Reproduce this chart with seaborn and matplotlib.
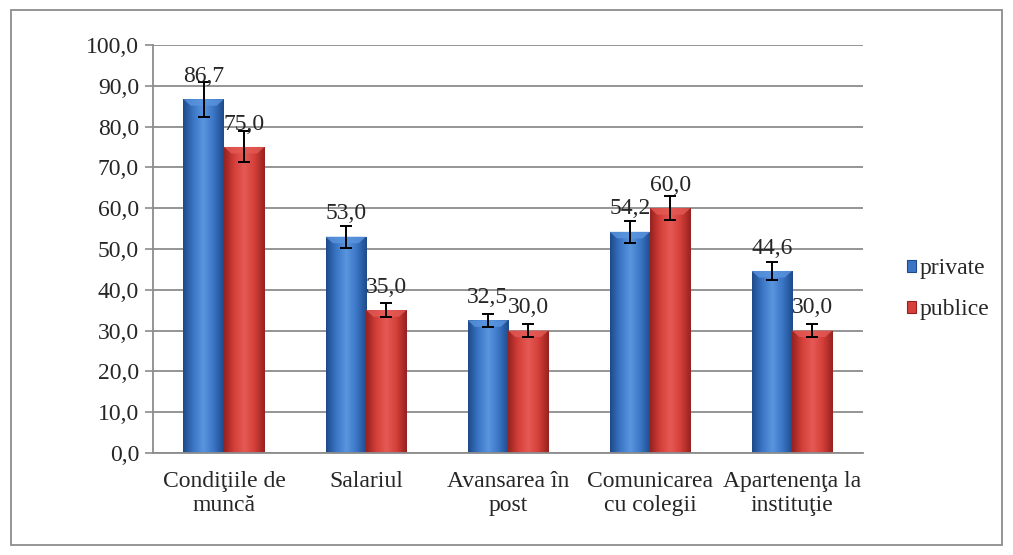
import matplotlib
matplotlib.use("Agg")
import matplotlib.pyplot as plt
import matplotlib.colors as mcolors
from matplotlib.patches import Rectangle
import seaborn as sns
import numpy as np
import pandas as pd

# data
categories = ["Condiţiile de\nmuncă", "Salariul", "Avansarea în\npost",
              "Comunicarea\ncu colegii", "Apartenenţa la\ninstituţie"]
private = [86.7, 53.0, 32.5, 54.2, 44.6]
publice = [75.0, 35.0, 30.0, 60.0, 30.0]
err_private = [4.3, 2.7, 1.6, 2.7, 2.2]
err_publice = [3.8, 1.8, 1.5, 3.0, 1.5]
yticks = [0, 10, 20, 30, 40, 50, 60, 70, 80, 90, 100]

df = pd.DataFrame({
    "cat": categories * 2,
    "val": private + publice,
    "err": err_private + err_publice,
    "grp": ["private"] * 5 + ["publice"] * 5,
})

sns.set_style("white")
plt.rcParams["font.family"] = ["Liberation Serif", "DejaVu Serif"]
FS = 17

colors = {"private": "#3B76C6", "publice": "#D63F3A"}
dark = {"private": "#1E4A8A", "publice": "#962320"}
light = {"private": "#5A95DF", "publice": "#E45A55"}

fig = plt.figure(figsize=(10.13, 5.55), dpi=100)
ax = fig.add_axes([0.151, 0.184, 0.701, 0.735])

sns.barplot(data=df, x="cat", y="val", hue="grp", palette=colors,
            width=0.57, errorbar=None, ax=ax, legend=False,
            edgecolor="none", saturation=1)

# gradient shading + error bars + labels
grad = np.linspace(0, 1, 64).reshape(1, -1)
for container, g in zip(ax.containers, ["private", "publice"]):
    cmap = mcolors.LinearSegmentedColormap.from_list(
        g, [dark[g], colors[g], light[g], colors[g], dark[g]])
    sub = df[df.grp == g]
    for bar, v, e in zip(container, sub.val, sub.err):
        x0, y0 = bar.get_x(), bar.get_y()
        w, h = bar.get_width(), bar.get_height()
        im = ax.imshow(grad, cmap=cmap, aspect="auto",
                       extent=[x0, x0 + w, y0, y0 + h], zorder=2,
                       interpolation="bicubic")
        im.set_clip_path(bar)
        # top bevel highlight
        bh = 1.6
        tri = plt.Polygon([[x0, y0 + h], [x0 + w, y0 + h],
                           [x0 + w * 0.82, y0 + h - bh], [x0 + w * 0.18, y0 + h - bh]],
                          closed=True, color=light[g], alpha=0.8, zorder=3, lw=0)
        ax.add_patch(tri)
        cx = x0 + w / 2
        ax.errorbar(cx, v, yerr=e, color="black", capsize=4.5, lw=1.4,
                    capthick=1.4, zorder=4)
        ax.annotate(f"{v:.1f}".replace(".", ","), (cx, v), xytext=(0, 12.5),
                    textcoords="offset points", ha="center", va="baseline",
                    fontsize=FS, zorder=5)

ax.set_xlim(-0.5, 4.5)
ax.set_ylim(0, 100)
ax.set_yticks(yticks)
ax.set_yticklabels([f"{t:.1f}".replace(".", ",") for t in yticks], fontsize=FS)
ax.set_xticks(range(5))
ax.set_xticklabels(categories, fontsize=FS, linespacing=1.2)
ax.set_xticks(np.arange(-0.5, 5, 1), minor=True)
ax.tick_params(axis="x", which="major", length=0, pad=13)
ax.tick_params(axis="x", which="minor", length=6, color="#8C8C8C", width=1.2)
ax.tick_params(axis="y", length=6, color="#8C8C8C", width=1.2, left=True, pad=4)
ax.set_xlabel("")
ax.set_ylabel("")
ax.grid(axis="y", color="#8C8C8C", lw=1.3, zorder=0)
ax.set_axisbelow(True)
for s in ["top", "right"]:
    ax.spines[s].set_visible(False)
for s in ["left", "bottom"]:
    ax.spines[s].set_color("#8C8C8C")
    ax.spines[s].set_linewidth(1.3)

handles = [Rectangle((0, 0), 1, 1, facecolor=colors[g], edgecolor=dark[g], lw=0.8)
           for g in ["private", "publice"]]
fig.legend(handles, ["private", "publice"], loc="center left",
           bbox_to_anchor=(0.874, 0.479), frameon=False, fontsize=FS,
           handlelength=0.4, handleheight=0.4, handletextpad=0.15, labelspacing=0.85)

fig.add_artist(Rectangle((0.0105, 0.018), 0.979, 0.964, transform=fig.transFigure,
                         fill=False, edgecolor="#8C8C8C", lw=1.3))

fig.savefig("out.png", dpi=100)
